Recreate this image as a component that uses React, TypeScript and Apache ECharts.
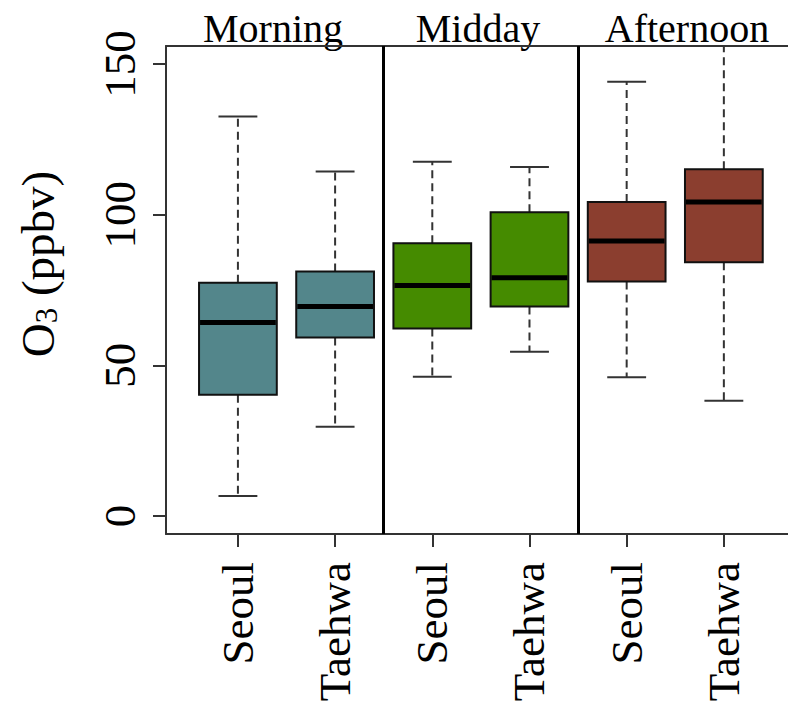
import React, { useEffect, useRef } from "react";
import * as echarts from "echarts";

// ---- data ----
const periods = ["Morning", "Midday", "Afternoon"];
const categories = ["Seoul", "Taehwa", "Seoul", "Taehwa", "Seoul", "Taehwa"];
const positions = [1, 2, 3, 4, 5, 6];
const groupOf = [0, 0, 1, 1, 2, 2];
const lowWhisker = [6.6, 29.6, 46.2, 54.5, 46.0, 38.2];
const q1 = [40.2, 59.2, 62.2, 69.5, 77.8, 84.2];
const median = [64.2, 69.5, 76.5, 79.1, 91.3, 104.2];
const q3 = [77.4, 81.1, 90.5, 100.8, 104.2, 115.1];
const highWhisker = [132.6, 114.3, 117.6, 115.8, 144.1, 162.0];
const yTicks = [0, 50, 100, 150];
const separators = [2.5, 4.5];

const groupColors = ["#53868B", "#458B00", "#8B3E2F"];
const FONT = "Liberation Serif";

export default function App() {
  const ref = useRef<HTMLDivElement>(null);
  useEffect(() => {
    if (!ref.current) return;
    const chart = echarts.init(ref.current, null, { renderer: "svg" });
    const data = positions.map((p, i) => [
      p,
      lowWhisker[i],
      q1[i],
      median[i],
      q3[i],
      highWhisker[i],
      groupOf[i],
    ]);
    const axisLineStyle = { color: "#333", width: 2 };
    chart.setOption({
      animation: false,
      backgroundColor: "#fff",
      grid: { left: 166, right: 0, top: 46, bottom: 181, containLabel: false },
      xAxis: [
        {
          type: "value",
          min: 0.26,
          max: 6.66,
          axisLine: { show: true, onZero: false, lineStyle: axisLineStyle },
          axisTick: {
            show: true,
            length: 13,
            lineStyle: axisLineStyle,
            customValues: positions,
          },
          axisLabel: {
            show: true,
            customValues: positions,
            rotate: 90,
            margin: 28,
            fontSize: 45,
            fontFamily: FONT,
            color: "#000",
            formatter: (v: number) => categories[Math.round(v) - 1] ?? "",
          },
          splitLine: { show: false },
        },
        {
          type: "value",
          position: "top",
          min: 0.26,
          max: 6.66,
          axisLine: { show: true, onZero: false, lineStyle: axisLineStyle },
          axisTick: { show: false },
          axisLabel: { show: false },
          splitLine: { show: false },
        },
      ],
      yAxis: {
        type: "value",
        min: -6,
        max: 156,
        axisLine: { show: true, onZero: false, lineStyle: axisLineStyle },
        axisTick: {
          show: true,
          length: 13,
          lineStyle: axisLineStyle,
          customValues: yTicks,
        },
        axisLabel: {
          show: true,
          customValues: yTicks,
          rotate: 90,
          margin: 24,
          fontSize: 45,
          fontFamily: FONT,
          color: "#000",
        },
        splitLine: { show: false },
      },
      graphic: [
        ...periods.map((t, i) => ({
          type: "text",
          x: [273, 478, 687][i],
          y: 28,
          style: {
            text: t,
            fontSize: 40,
            fontFamily: FONT,
            fill: "#000",
            align: "center",
            verticalAlign: "middle",
          },
        })),
        {
          type: "text",
          x: 38,
          y: 264,
          rotation: Math.PI / 2,
          style: {
            text: "{a|O}{b|3}{a| (ppbv)}",
            fill: "#000",
            align: "center",
            verticalAlign: "middle",
            rich: {
              a: { fontSize: 47, fontFamily: FONT, lineHeight: 48, fill: "#000" },
              b: {
                fontSize: 31,
                fontFamily: FONT,
                lineHeight: 31,
                verticalAlign: "bottom",
                fill: "#000",
              },
            },
          },
        },
      ],
      series: [
        {
          type: "custom",
          clip: true,
          data,
          encode: { x: 0, y: [1, 2, 3, 4, 5] },
          renderItem: (params: any, api: any) => {
            const x = api.value(0);
            const pLow = api.coord([x, api.value(1)]);
            const pQ1 = api.coord([x, api.value(2)]);
            const pMed = api.coord([x, api.value(3)]);
            const pQ3 = api.coord([x, api.value(4)]);
            const pHigh = api.coord([x, api.value(5)]);
            const color = groupColors[api.value(6)];
            const bw = api.size([0.8, 0])[0];
            const cx = pMed[0];
            const whisker = { stroke: "#333", lineWidth: 2, lineDash: [8, 5] };
            const cap = { stroke: "#333", lineWidth: 2 };
            return {
              type: "group",
              children: [
                {
                  type: "line",
                  shape: { x1: cx, y1: pQ3[1], x2: cx, y2: pHigh[1] },
                  style: whisker,
                },
                {
                  type: "line",
                  shape: { x1: cx, y1: pQ1[1], x2: cx, y2: pLow[1] },
                  style: whisker,
                },
                {
                  type: "line",
                  shape: { x1: cx - bw / 4, y1: pHigh[1], x2: cx + bw / 4, y2: pHigh[1] },
                  style: cap,
                },
                {
                  type: "line",
                  shape: { x1: cx - bw / 4, y1: pLow[1], x2: cx + bw / 4, y2: pLow[1] },
                  style: cap,
                },
                {
                  type: "rect",
                  shape: { x: cx - bw / 2, y: pQ3[1], width: bw, height: pQ1[1] - pQ3[1] },
                  style: { fill: color, stroke: "#111", lineWidth: 2 },
                },
                {
                  type: "line",
                  shape: { x1: cx - bw / 2 + 1, y1: pMed[1], x2: cx + bw / 2 - 1, y2: pMed[1] },
                  style: { stroke: "#000", lineWidth: 5 },
                },
              ],
            };
          },
          markLine: {
            silent: true,
            symbol: ["none", "none"],
            label: { show: false },
            lineStyle: { color: "#000", width: 3, type: "solid" },
            data: separators.map((s) => ({ xAxis: s })),
          },
        },
      ],
    });
    return () => chart.dispose();
  }, []);
  return (
    <div
      ref={ref}
      style={{ position: "fixed", left: 0, top: 0, width: 788, height: 715, background: "#fff" }}
    />
  );
}
